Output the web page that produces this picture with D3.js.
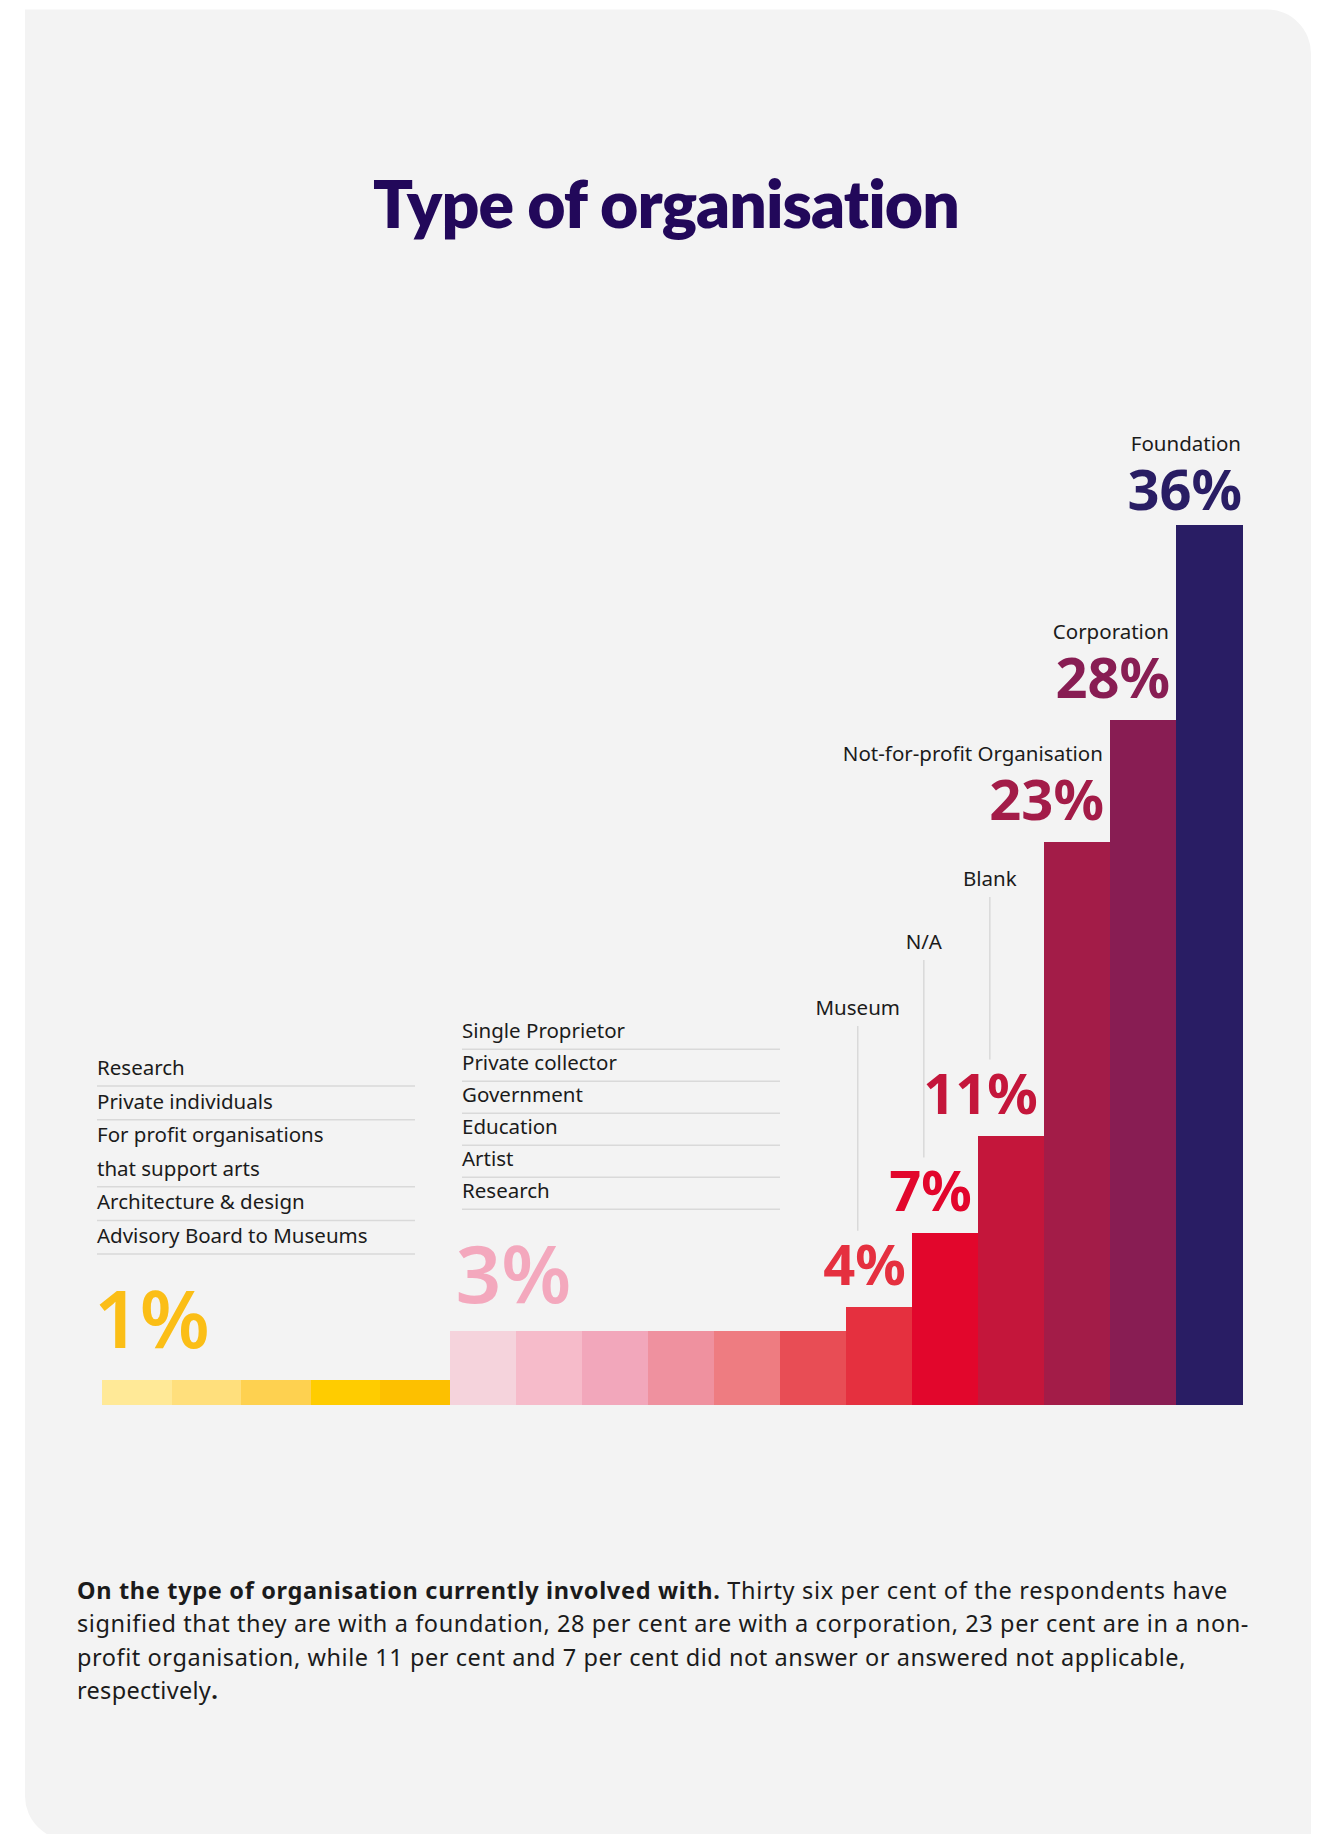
<!DOCTYPE html>
<html>
<head>
<meta charset="utf-8">
<script src="https://cdn.jsdelivr.net/npm/d3@7"></script>
<style>
  html, body { margin: 0; padding: 0; background: #ffffff; }
  svg { display: block; }
</style>
</head>
<body>
<svg id="chart"></svg>
<script>
// ---- data -------------------------------------------------------------
// Types that each account for 1% ("|" marks a line break in the list)
const onePercentTypes = [
  "Research",
  "Private individuals",
  "For profit organisations|that support arts",
  "Architecture & design",
  "Advisory Board to Museums"
];
const onePercentValue = 1;

// Types that each account for 3%
const threePercentTypes = [
  "Single Proprietor",
  "Private collector",
  "Government",
  "Education",
  "Artist",
  "Research"
];
const threePercentValue = 3;

// Individually labelled types
const mainTypes = ["Museum", "N/A", "Blank", "Not-for-profit Organisation", "Corporation", "Foundation"];
const mainValues = [4, 7, 11, 23, 28, 36];

// Palette
const yellowShades = ["#FFE997", "#FFDF7C", "#FED150", "#FFCC00", "#FDC000"];
const pinkShades = ["#F5D3DC", "#F6BBCA", "#F2A7BB", "#EF919F", "#EE7C81", "#E84D55"];
const mainColors = ["#E5303F", "#E2062C", "#C4163B", "#A31C48", "#881D53", "#291D64"];
const onePercentLabelColor = "#FBBE16";
const threePercentLabelColor = "#F3A8BD";

const titleText = "Type of organisation";
const captionBold = "On the type of organisation currently involved with.";
const captionLines = [
  " Thirty six per cent of the respondents have",
  "signified that they are with a foundation, 28 per cent are with a corporation, 23 per cent are in a non-",
  "profit organisation, while 11 per cent and 7 per cent did not answer or answered not applicable,",
  "respectively"
];

// ---- layout -----------------------------------------------------------
const W = 1326, H = 1834;
const FONT = "'Noto Sans', 'Open Sans', sans-serif";
const TITLE_FONT = "Lato, 'Noto Sans', sans-serif";
const textColor = "#1b1b1b";
const ruleColor = "#d9d9d9";

const svg = d3.select("#chart").attr("width", W).attr("height", H)
  .attr("viewBox", `0 0 ${W} ${H}`);

// Card: square top-left, rounded top-right and bottom-left
const card = { x0: 25, y0: 9.5, x1: 1311, y1: 1840, r: 44 };
svg.append("path")
  .attr("d", `M${card.x0},${card.y0} H${card.x1 - card.r} A${card.r},${card.r} 0 0 1 ${card.x1},${card.y0 + card.r}
              V${card.y1} H${card.x0 + card.r} A${card.r},${card.r} 0 0 1 ${card.x0},${card.y1 - card.r} Z`)
  .attr("fill", "#f3f3f3");

// Fit a text element to a set width by adjusting its tracking
function fitWidth(sel, target, nChars) {
  sel.attr("letter-spacing", 0);
  const w = sel.node().getComputedTextLength();
  sel.attr("letter-spacing", (target - w) / nChars);
}

// Title
const title = svg.append("text")
  .attr("x", 666).attr("y", 228)
  .attr("text-anchor", "middle")
  .attr("font-family", TITLE_FONT).attr("font-weight", 800).attr("font-size", 66)
  .attr("fill", "#22085A")
  .text(titleText);
fitWidth(title, 588, titleText.length - 1);

// Rows in drawing order
const rows = [
  ...onePercentTypes.map((t, i) => ({ id: "one" + i, group: "one", label: t, value: onePercentValue, color: yellowShades[i] })),
  ...threePercentTypes.map((t, i) => ({ id: "three" + i, group: "three", label: t, value: threePercentValue, color: pinkShades[i] })),
  ...mainTypes.map((t, i) => ({ id: "main" + i, group: "main", label: t, value: mainValues[i], color: mainColors[i] }))
];

const baseline = 1404.5;
const xOne = d3.scaleBand()
  .domain(rows.filter(d => d.group === "one").map(d => d.id))
  .range([102, 449.5]);
const xRest = d3.scaleBand()
  .domain(rows.filter(d => d.group !== "one").map(d => d.id))
  .range([449.5, 1242]);
const xPos = d => d.group === "one" ? xOne(d.id) : xRest(d.id);
const bw = d => d.group === "one" ? xOne.bandwidth() : xRest.bandwidth();

const y = d3.scaleLinear()
  .domain([0, d3.max(mainValues)])
  .range([baseline, 524.5]);

// Bars
svg.append("g").selectAll("rect")
  .data(rows)
  .join("rect")
  .attr("x", d => xPos(d))
  .attr("y", d => y(d.value))
  .attr("width", d => bw(d) + 0.5)
  .attr("height", d => baseline - y(d.value))
  .attr("fill", d => d.color)
  .attr("shape-rendering", "crispEdges");

// Grouped blocks: big percentage plus a ruled list of the types
const groups = [
  { value: onePercentValue, color: onePercentLabelColor, start: xOne.range()[0], numX: -8, numGap: 32, listX: 97, step: 33.6, items: onePercentTypes },
  { value: threePercentValue, color: threePercentLabelColor, start: xRest.range()[0], numX: 6, numGap: 28, listX: 462, step: 32, items: threePercentTypes }
];
const listWidth = 318;

groups.forEach(g => {
  const numBase = y(g.value) - g.numGap;
  svg.append("text")
    .attr("x", g.start + g.numX).attr("y", numBase)
    .attr("font-family", FONT).attr("font-weight", 600).attr("font-size", 80)
    .attr("fill", g.color)
    .text(g.value + "%");

  const gl = svg.append("g");
  let rule = numBase - 94;
  g.items.slice().reverse().forEach(item => {
    const lines = item.split("|");
    gl.append("line")
      .attr("x1", g.listX).attr("x2", g.listX + listWidth)
      .attr("y1", rule).attr("y2", rule)
      .attr("stroke", ruleColor).attr("stroke-width", 1.5);
    lines.slice().reverse().forEach((ln, j) => {
      gl.append("text")
        .attr("x", g.listX).attr("y", rule - 11 - j * g.step)
        .attr("font-family", FONT).attr("font-size", 20.5)
        .attr("fill", textColor)
        .text(ln);
    });
    rule -= g.step * lines.length;
  });
});

// Individually labelled bars
const calloutBaselines = { "Museum": 1015, "N/A": 949, "Blank": 886 };
const mainRows = rows.filter(d => d.group === "main");
const ann = svg.append("g");
mainRows.forEach(d => {
  const isTop = d.value === d3.max(mainValues);
  const right = xPos(d) + bw(d) - (isTop ? 0 : 6);
  const numBase = y(d.value) - (isTop ? 15 : 22);
  ann.append("text")
    .attr("x", right).attr("y", numBase)
    .attr("text-anchor", "end")
    .attr("font-family", FONT).attr("font-weight", 700).attr("font-size", 56)
    .attr("fill", d.color)
    .text(d.value + "%");

  if (d.label in calloutBaselines) {
    const cx = xPos(d) + 12;
    const lb = calloutBaselines[d.label];
    ann.append("line")
      .attr("x1", cx).attr("x2", cx)
      .attr("y1", lb + 11).attr("y2", numBase - 54)
      .attr("stroke", ruleColor).attr("stroke-width", 1.5);
    ann.append("text")
      .attr("x", cx).attr("y", lb)
      .attr("text-anchor", "middle")
      .attr("font-family", FONT).attr("font-size", 20.5)
      .attr("fill", textColor)
      .text(d.label);
  } else {
    ann.append("text")
      .attr("x", right - 1).attr("y", numBase - 59)
      .attr("text-anchor", "end")
      .attr("font-family", FONT).attr("font-size", 20.5)
      .attr("fill", textColor)
      .text(d.label);
  }
});

// Caption paragraph, each line set to its measure
const cap = svg.append("g")
  .attr("font-family", FONT).attr("font-size", 23.5).attr("fill", textColor);
const capX = 77, capY = 1599, capStep = 33.3;
const capWidths = [1151, 1172, 1109, null];
captionLines.forEach((ln, i) => {
  const t = cap.append("text").attr("x", capX).attr("y", capY + i * capStep);
  if (i === 0) t.append("tspan").attr("font-weight", 700).text(captionBold);
  t.append("tspan").text(ln);
  if (i === captionLines.length - 1) t.append("tspan").attr("font-weight", 700).text(".");
  if (capWidths[i]) {
    const n = (i === 0 ? captionBold.length : 0) + ln.length;
    fitWidth(t, capWidths[i], n);
  } else {
    t.attr("letter-spacing", 0.3);
  }
});
</script>
</body>
</html>
